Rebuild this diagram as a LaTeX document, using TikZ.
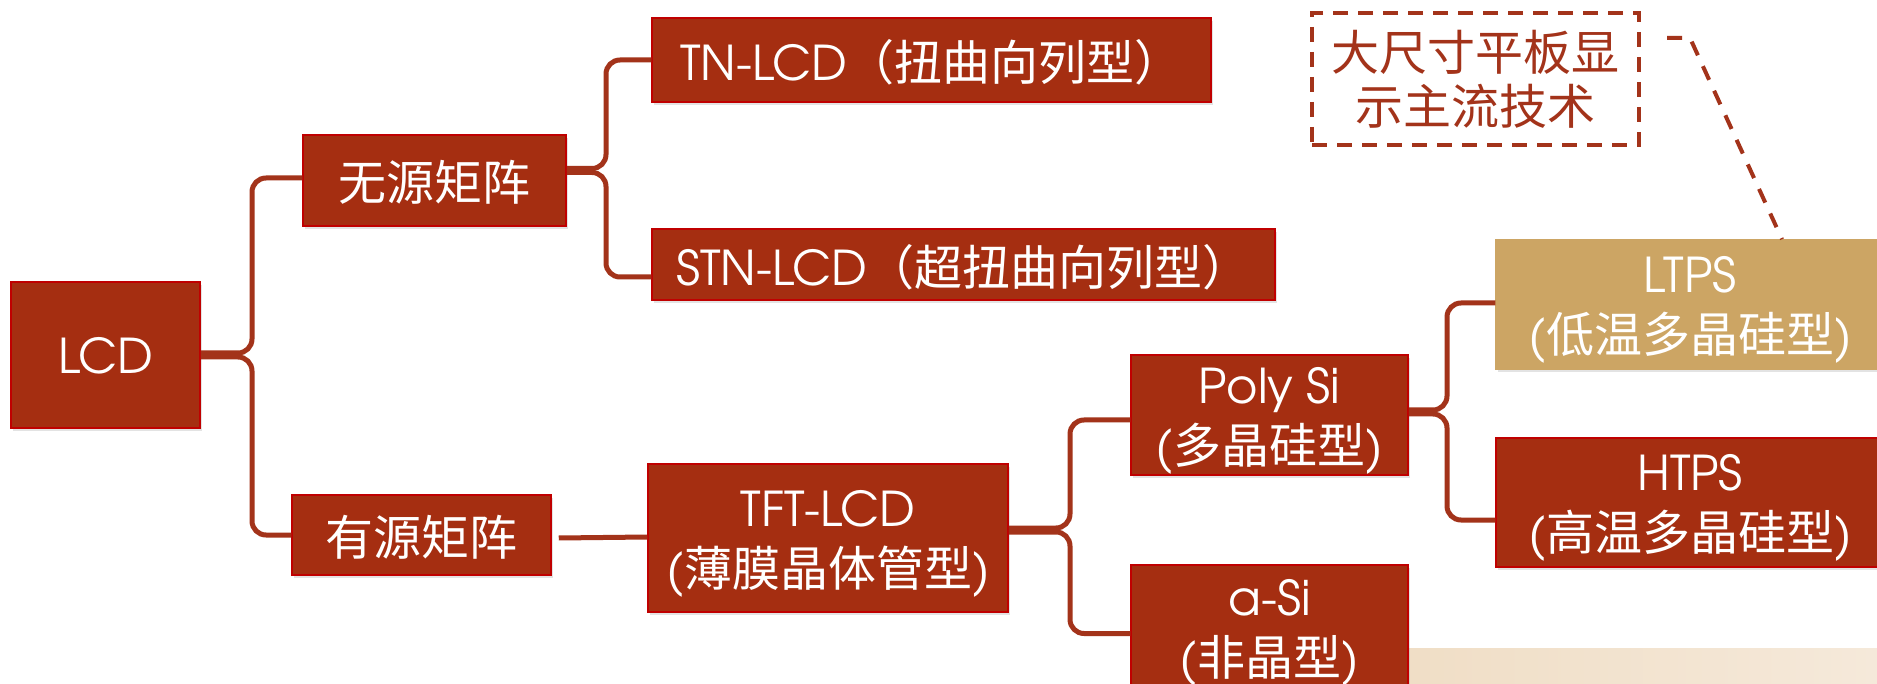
\documentclass[tikz,border=0pt]{standalone}
\usepackage{fontspec}
\setmainfont{TeX Gyre Adventor}
\newfontfamily\cjk{Noto Sans CJK SC}
\usetikzlibrary{shadows}
\definecolor{rust}{HTML}{A52E11}
\definecolor{rustline}{HTML}{A3331A}
\definecolor{redborder}{HTML}{C00000}
\definecolor{tanbox}{HTML}{CCA564}
\definecolor{wood}{HTML}{F0DEC6}
\definecolor{woodlight}{HTML}{F5E9DA}
\begin{document}
\begin{tikzpicture}[x=1pt,y=-1pt,
  box/.style={fill=rust, draw=redborder, line width=1.5pt, text=white,
    font=\fontsize{48}{60}\selectfont, align=center, inner sep=0pt, text depth=0pt,
    drop shadow={shadow xshift=1.5pt, shadow yshift=-3pt, opacity=0.22}},
  tanstyle/.style={fill=tanbox, draw=tanbox},
  brace/.style={draw=rustline, line width=5pt, rounded corners=14pt},
  dashbox/.style={draw=rustline, line width=3.5pt, dash pattern=on 15pt off 10pt,
    text=rustline, font=\cjk\fontsize{48}{54}\selectfont, align=center, inner sep=0pt},
  dashconn/.style={draw=rustline, line width=4pt, dash pattern=on 15pt off 12pt}]
\clip (0,0) rectangle (1877,684);
\useasboundingbox (0,0) rectangle (1877,684);
\fill[white] (0,0) rectangle (1877,684);
% wood strip
\shade[left color=wood, right color=woodlight] (1408,648) rectangle (1877,684);

% nodes
\node[box, minimum width=189pt, minimum height=146pt] (lcd) at (105.5,355) {LCD};
\node[box, minimum width=263pt, minimum height=91pt] (wy) at (434.5,180.5) {{\cjk 无源矩阵}};
\node[box, minimum width=259pt, minimum height=80pt] (yy) at (421.5,535) {{\cjk 有源矩阵}};
\node[box, minimum width=559pt, minimum height=84pt] (tn) at (931.5,60) {TN-LCD{\cjk （扭曲向列型）}};
\node[box, minimum width=623pt, minimum height=71pt] (stn) at (963.5,264.5) {STN-LCD{\cjk （超扭曲向列型）}};
\node[box, minimum width=360pt, minimum height=148pt] (tft) at (828,538) {TFT-LCD\\({\cjk 薄膜晶体管型})};
\node[box, minimum width=277pt, minimum height=120pt] (poly) at (1269.5,415) {Poly Si\\({\cjk 多晶硅型})};
\node[box, minimum width=277pt, minimum height=125pt] (asi) at (1269.5,627.5) {a-Si\\({\cjk 非晶型})};
\node[box, tanstyle, minimum width=388pt, minimum height=129pt] (ltps) at (1690,304.5) {LTPS\\({\cjk 低温多晶硅型})};
\node[box, minimum width=388pt, minimum height=129pt] (htps) at (1690,502.5) {HTPS\\({\cjk 高温多晶硅型})};

% note box
\node[dashbox, minimum width=327pt, minimum height=132pt] (note) at (1475.5,79) {大尺寸平板显\\示主流技术};

% brace x positions
\coordinate (b1) at (252,0);
\coordinate (b2) at (606,0);
\coordinate (b3) at (1070,0);
\coordinate (b4) at (1447,0);

% brace tips
\coordinate (lcdU) at ([yshift=2pt]lcd.east);
\coordinate (lcdD) at ([yshift=-2pt]lcd.east);
\coordinate (wyU) at ([yshift=12pt]wy.east);
\coordinate (wyD) at ([yshift=8pt]wy.east);
\coordinate (tftU) at ([yshift=10pt]tft.east);
\coordinate (tftD) at ([yshift=6pt]tft.east);
\coordinate (polyU) at ([yshift=5pt]poly.east);
\coordinate (polyD) at ([yshift=1pt]poly.east);

% connectors
\draw[brace] (lcdU) -- (b1 |- lcdU) |- ([yshift=2.5pt]wy.west);
\draw[brace] (lcdD) -- (b1 |- lcdD) |- (yy.west);

\draw[brace] (wyU) -- (b2 |- wyU) |- (tn.west);
\draw[brace] (wyD) -- (b2 |- wyD) |- ([yshift=-12.5pt]stn.west);

\draw[draw=rustline, line width=5pt] ([xshift=7pt,yshift=-3pt]yy.east) -- ([yshift=1pt]tft.west);

\draw[brace] (tftU) -- (b3 |- tftU) |- ([yshift=-5pt]poly.west);
\draw[brace] (tftD) -- (b3 |- tftD) |- ([yshift=-6pt]asi.west);

\draw[brace] (polyU) -- (b4 |- polyU) |- ([yshift=1.5pt]ltps.west);
\draw[brace] (polyD) -- (b4 |- polyD) |- ([yshift=-17.5pt]htps.west);

% dashed connector
\coordinate (d0) at (1667,38);
\coordinate (d1) at (1690,38);
\draw[dashconn] (d0) -- (d1) -- ([xshift=92pt]ltps.north);
\end{tikzpicture}
\end{document}
